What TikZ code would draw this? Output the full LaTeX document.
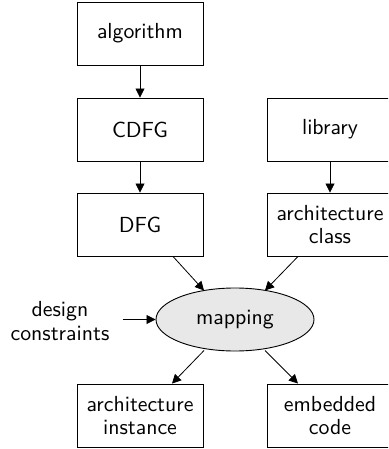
\documentclass[tikz,border=0pt]{standalone}
\usepackage{fontspec}
\setsansfont{lmsans10-regular.otf}
\usetikzlibrary{shapes.geometric,arrows.meta,calc}
\begin{document}
\begin{tikzpicture}[x=1pt,y=1pt,
  every node/.style={font=\sffamily\fontsize{21.8}{23.5}\selectfont},
  box/.style={draw,line width=0.9pt,minimum width=126pt,minimum height=63pt,inner sep=0pt,align=center},
  arr/.style={line width=0.8pt,-{Triangle[length=9pt,width=9pt]}}]
\useasboundingbox (0,0) rectangle (388,-449);
\clip (0,0) rectangle (388,-449);
% boxes of the flow
\node[box] (alg) at (140,-33.5) {algorithm};
\node[box] (cdfg) at (140,-129.5) {CDFG};
\node[box] (dfg) at (140,-224.5) {DFG};
\node[box] (lib) at (330,-129.5) {library};
\node[box] (cls) at (330,-224.5) {architecture\\class};
\node[draw,ellipse,line width=0.9pt,fill=black!9,minimum width=158pt,minimum height=63pt,inner sep=0pt] (map) at (235,-319.5) {mapping};
\node[align=center] (dc) at (60,-321) {design\\constraints};
\node[box] (inst) at (140,-415.5) {architecture\\instance};
\node[box] (code) at (330,-415.5) {embedded\\code};
% end points of the slanted connectors
\coordinate (dfgout) at ($(dfg.south)+(33,0)$);
\coordinate (clsout) at ($(cls.south)+(-32,0)$);
\coordinate (dcout) at ($(map.west)+(-33,0)$);
\coordinate (instin) at ($(inst.north)+(32,0)$);
\coordinate (codein) at ($(code.north)+(-32,0)$);
\coordinate (mapin1) at ($(map.center)+(-31,29)$);
\coordinate (mapin2) at ($(map.center)+(30,29)$);
\coordinate (mapout1) at ($(map.center)+(-31,-31)$);
\coordinate (mapout2) at ($(map.center)+(30,-31)$);
% connectors
\draw[arr] (alg) -- (cdfg);
\draw[arr] (cdfg) -- (dfg);
\draw[arr] (lib) -- (cls);
\draw[arr] (dfgout) -- (mapin1);
\draw[arr] (clsout) -- (mapin2);
\draw[arr] (dcout) -- (map.west);
\draw[arr] (mapout1) -- (instin);
\draw[arr] (mapout2) -- (codein);
\end{tikzpicture}
\end{document}
